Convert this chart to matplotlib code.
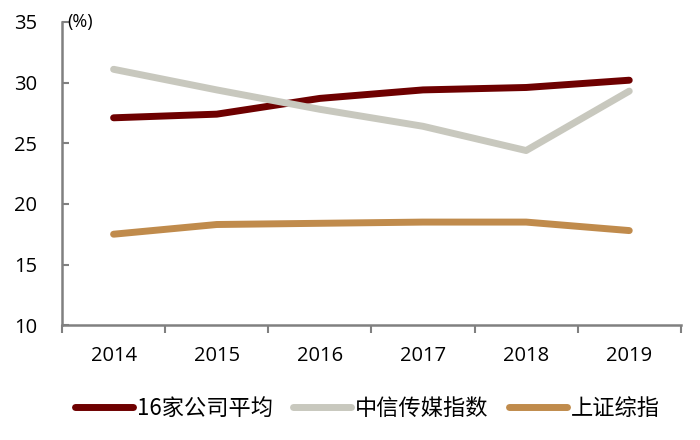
import matplotlib
matplotlib.use("Agg")
import matplotlib.pyplot as plt

years = ["2014", "2015", "2016", "2017", "2018", "2019"]
avg16 = [27.1, 27.4, 28.7, 29.4, 29.6, 30.2]
citic_media = [31.1, 29.4, 27.8, 26.4, 24.4, 29.3]
shanghai = [17.5, 18.3, 18.4, 18.5, 18.5, 17.8]
labels = ["16家公司平均", "中信传媒指数", "上证综指"]
colors = ["#6E0000", "#C8C8BE", "#C08B4C"]
yticks = [10, 15, 20, 25, 30, 35]

plt.rcParams['font.family'] = ['Open Sans', 'Noto Sans CJK SC', 'DejaVu Sans']

fig = plt.figure(figsize=(7, 4.4), dpi=100)
ax = fig.add_axes([0.0886, 0.261, 0.884, 0.689])

x = list(range(len(years)))
for vals, lab, c in zip([avg16, citic_media, shanghai], labels, colors):
    ax.plot(x, vals, color=c, lw=5, label=lab, solid_capstyle='round', solid_joinstyle='round')

ax.set_xlim(-0.5, len(years) - 0.5)
ax.set_ylim(10, 35)
ax.set_yticks(yticks)
ax.set_xticks(x)
ax.set_xticklabels(years)
ax.set_xticks([i - 0.5 for i in range(len(years) + 1)], minor=True)
ax.tick_params(axis='x', which='major', length=0, pad=15, labelsize=14.5)
ax.tick_params(axis='x', which='minor', length=6, width=1.5, color='#808080', direction='out')
ax.tick_params(axis='y', length=5, width=1.5, color='#808080', direction='in', pad=18, labelsize=14.5)
for s in ['top', 'right']:
    ax.spines[s].set_visible(False)
for s in ['left', 'bottom']:
    ax.spines[s].set_color('#808080')
    ax.spines[s].set_linewidth(1.8)

ax.text(0.008, 1.0, "(%)", transform=ax.transAxes, fontsize=13, ha='left', va='center')

leg = fig.legend(loc='lower center', bbox_to_anchor=(0.525, 0.0), ncol=3, frameon=False,
                 handlelength=2.6, handletextpad=0.2, columnspacing=0.9,
                 prop={'family': ['Noto Sans CJK SC', 'DejaVu Sans'], 'size': 16})

fig.savefig("out.png", dpi=100)
